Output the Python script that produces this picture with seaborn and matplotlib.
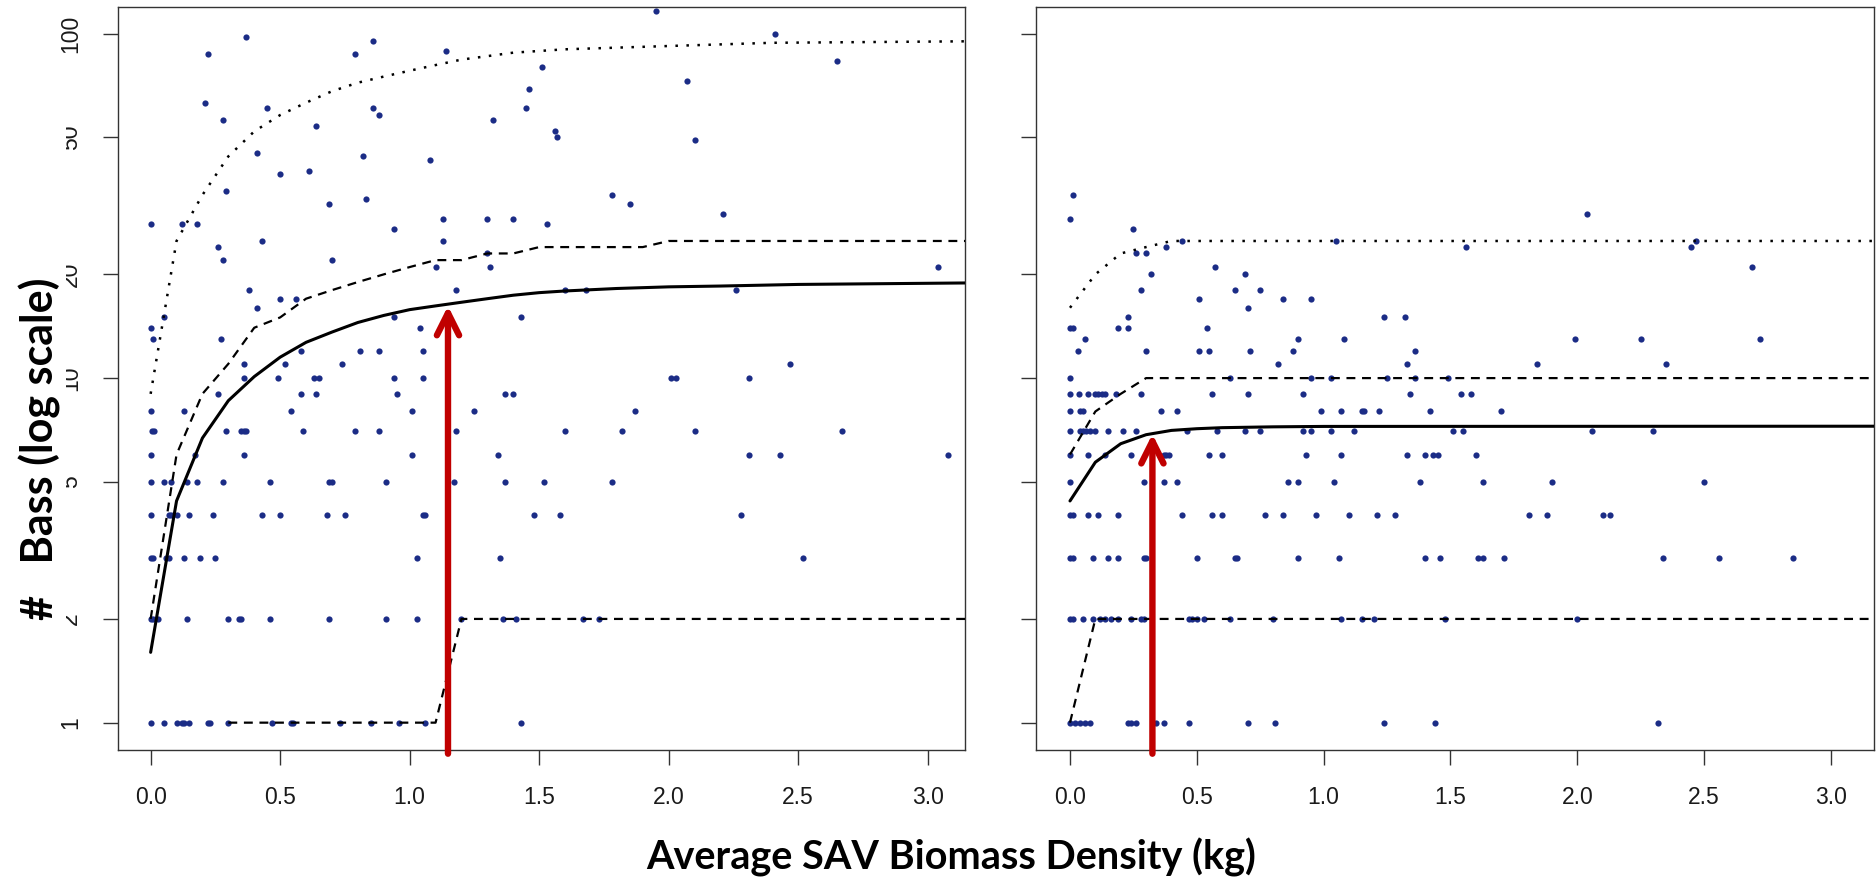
import pandas as pd
import matplotlib
matplotlib.use("Agg")
import matplotlib.pyplot as plt
from matplotlib.patches import Rectangle
import seaborn as sns

# ---- values ----
# left panel: bass counts and the biomass (kg) of every survey at that count
left_counts = [1, 2, 3, 4, 5, 6, 7, 8, 9, 10, 11, 12, 13, 14, 15, 16, 17, 18,
               21, 22, 23, 24, 25, 27, 28, 29, 30, 32, 33, 34, 35, 39, 40, 43,
               44, 45, 49, 50, 52, 54, 56, 58, 61, 63, 69, 73, 80, 83, 87, 89,
               95, 98, 100, 116]
left_x = [
    [0, 0.05, 0.10, 0.12, 0.13, 0.15, 0.22, 0.23, 0.30, 0.47, 0.54, 0.55, 0.73, 0.85, 0.96, 1.06, 1.43],
    [0.0, 0.01, 0.03, 0.14, 0.30, 0.34, 0.35, 0.46, 0.69, 0.91, 1.03, 1.20, 1.36, 1.41, 1.67, 1.73],
    [0.0, 0.01, 0.06, 0.07, 0.13, 0.19, 0.25, 1.03, 1.35, 2.52],
    [0.0, 0.07, 0.08, 0.10, 0.15, 0.24, 0.43, 0.50, 0.68, 0.75, 1.05, 1.06, 1.48, 1.58, 2.28],
    [0.0, 0.05, 0.08, 0.14, 0.18, 0.28, 0.46, 0.69, 0.70, 0.91, 1.17, 1.37, 1.52, 1.78],
    [0.0, 0.17, 0.36, 1.01, 1.34, 2.31, 2.43, 3.08],
    [0.005, 0.013, 0.29, 0.35, 0.36, 0.37, 0.59, 0.79, 0.88, 1.18, 1.60, 1.82, 2.10, 2.67],
    [0.0, 0.13, 0.54, 1.01, 1.25, 1.87],
    [0.26, 0.58, 0.64, 0.95, 1.37, 1.40],
    [0.36, 0.49, 0.63, 0.65, 0.94, 1.05, 2.01, 2.03, 2.31],
    [0.36, 0.52, 0.74, 2.47],
    [0.58, 0.81, 0.88, 1.05],
    [0.01, 0.27],
    [0.0, 1.04],
    [0.05, 0.94, 1.43],
    [0.41],
    [0.50, 0.56],
    [0.38, 1.18, 1.60, 1.68, 2.26],
    [1.10, 1.31, 3.04],
    [0.28, 0.70],
    [1.30],
    [0.26],
    [0.43, 1.13],
    [0.94],
    [0.0, 0.12, 0.18, 1.53],
    [1.13, 1.30, 1.40],
    [2.21],
    [0.69, 1.85],
    [0.83],
    [1.78],
    [0.29],
    [0.50],
    [0.61],
    [1.08],
    [0.82],
    [0.41],
    [2.10],
    [1.57],
    [1.56],
    [0.64],
    [0.28, 1.32],
    [0.88],
    [0.45, 0.86, 1.45],
    [0.21],
    [1.46],
    [2.07],
    [1.51],
    [2.65],
    [0.22, 0.79],
    [1.14],
    [0.86],
    [0.37],
    [2.41],
    [1.95],
]

# right panel
right_counts = [1, 2, 3, 4, 5, 6, 7, 8, 9, 10, 11, 12, 13, 14, 15, 16, 17, 18,
                20, 21, 23, 24, 25, 27, 29, 30, 34]
right_x = [
    [0.0, 0.02, 0.04, 0.06, 0.08, 0.23, 0.24, 0.26, 0.34, 0.37, 0.47, 0.70, 0.81, 1.24, 1.44, 2.32],
    [0.0, 0.01, 0.05, 0.09, 0.12, 0.14, 0.16, 0.19, 0.24, 0.28, 0.29, 0.47, 0.48, 0.50, 0.53, 0.63,
     0.80, 1.07, 1.15, 1.20, 1.48, 2.00],
    [0.0, 0.01, 0.09, 0.15, 0.19, 0.29, 0.30, 0.50, 0.65, 0.66, 0.90, 1.06, 1.40, 1.46, 1.61, 1.63,
     1.71, 2.34, 2.56, 2.85],
    [0.0, 0.01, 0.07, 0.11, 0.19, 0.44, 0.56, 0.60, 0.77, 0.84, 0.97, 1.10, 1.21, 1.28, 1.81, 1.88,
     2.10, 2.13],
    [0.0, 0.29, 0.37, 0.42, 0.86, 0.90, 1.04, 1.38, 1.63, 1.90, 2.50],
    [0.0, 0.07, 0.14, 0.24, 0.37, 0.38, 0.39, 0.55, 0.60, 0.93, 1.07, 1.33, 1.40, 1.43, 1.45, 1.60],
    [0.0, 0.04, 0.05, 0.065, 0.08, 0.10, 0.15, 0.21, 0.26, 0.46, 0.58, 0.69, 0.75, 0.92, 0.95, 1.03,
     1.12, 1.51, 1.55, 2.06, 2.30],
    [0.0, 0.04, 0.05, 0.36, 0.42, 0.99, 1.07, 1.15, 1.16, 1.22, 1.42, 1.70],
    [0.0, 0.035, 0.07, 0.10, 0.11, 0.125, 0.14, 0.18, 0.28, 0.56, 0.70, 0.92, 1.34, 1.54, 1.58],
    [0.0, 0.63, 0.95, 1.03, 1.25, 1.36, 1.49],
    [0.82, 1.33, 1.84, 2.35],
    [0.03, 0.30, 0.51, 0.55, 0.71, 0.88, 1.36],
    [0.06, 0.90, 1.08, 1.99, 2.25, 2.72],
    [0.0, 0.01, 0.19, 0.23, 0.54],
    [0.23, 1.24, 1.32],
    [0.70],
    [0.51, 0.84, 0.95],
    [0.28, 0.65, 0.75],
    [0.32, 0.69],
    [0.57, 2.69],
    [0.26, 0.30],
    [0.38, 1.56, 2.45],
    [0.44, 1.05, 2.47],
    [0.25],
    [0.0],
    [2.04],
    [0.01],
]

# fitted curve and interval lines (left panel)
left_fit_x = [0, 0.1, 0.2, 0.3, 0.4, 0.5, 0.6, 0.7, 0.8, 0.9, 1.0, 1.1, 1.2, 1.3, 1.4,
              1.5, 1.6, 1.8, 2.0, 2.2, 2.5, 3.2]
left_fit_y = [1.6, 4.4, 6.7, 8.6, 10.1, 11.5, 12.7, 13.6, 14.5, 15.2, 15.8, 16.2, 16.6,
              17.0, 17.4, 17.7, 17.9, 18.2, 18.4, 18.5, 18.7, 18.9]
left_hi_x = [0, 0.1, 0.2, 0.3, 0.4, 0.5, 0.6, 0.7, 0.8, 0.9, 1.0, 1.1, 1.2, 1.3, 1.4,
             1.5, 1.9, 2.0, 3.2]
left_hi_y = [2, 6, 9, 11, 14, 15, 17, 18, 19, 20, 21, 22, 22, 23, 23, 24, 24, 25, 25]
left_lo_x = [0.3, 1.1, 1.2, 3.2]
left_lo_y = [1, 1, 2, 2]
left_top_x = [0, 0.1, 0.2, 0.3, 0.4, 0.5, 0.6, 0.7, 0.8, 0.9, 1.0, 1.1, 1.2, 1.4, 1.6,
              1.8, 2.0, 2.4, 3.2]
left_top_y = [9, 25, 34, 44, 52, 58, 63, 68, 72, 75, 78, 81, 84, 88, 90, 91, 92, 94, 95]

# right panel
right_fit_x = [0, 0.1, 0.2, 0.3, 0.4, 0.5, 0.6, 0.8, 1.0, 3.2]
right_fit_y = [4.4, 5.7, 6.45, 6.85, 7.05, 7.13, 7.18, 7.22, 7.24, 7.25]
right_hi_x = [0, 0.1, 0.2, 0.3, 3.2]
right_hi_y = [6, 8, 9, 10, 10]
right_lo_x = [0, 0.1, 3.2]
right_lo_y = [1, 2, 2]
right_top_x = [0, 0.1, 0.2, 0.3, 0.4, 3.2]
right_top_y = [16, 20, 23, 24, 25, 25]

# red arrows (biomass where the fit levels off)
left_arrow = (1.148, 16.2)
right_arrow = (0.325, 6.88)

y_ticks = [1, 2, 5, 10, 20, 50, 100]
x_ticks = [0.0, 0.5, 1.0, 1.5, 2.0, 2.5, 3.0]

POINT = "#1b2c86"
RED = "#c00000"
AXIS = "#333333"

sns.set_theme(style="white")
plt.rcParams["font.family"] = ["Liberation Sans", "DejaVu Sans"]

W, H = 1876, 886
fig = plt.figure(figsize=(W / 100, H / 100), dpi=100)
ax1 = fig.add_axes([118 / W, 136 / H, 847 / W, 743 / H])
ax2 = fig.add_axes([1036 / W, 136 / H, 838 / W, 743 / H])


def long_table(counts, xs):
    rows = [(x, c) for c, row in zip(counts, xs) for x in row]
    return pd.DataFrame(rows, columns=["biomass", "bass"])


def draw_panel(ax, pts, fit, hi, lo, top, xlim, arrow, show_ylabels):
    ax.set_yscale("log")
    sns.scatterplot(data=pts, x="biomass", y="bass", ax=ax, color=POINT, s=20,
                    linewidth=0, zorder=2, legend=False)
    sns.lineplot(x=fit[0], y=fit[1], ax=ax, color="black", linewidth=2.2,
                 estimator=None, sort=False, zorder=3)
    for xs, ys in (hi, lo):
        sns.lineplot(x=xs, y=ys, ax=ax, color="black", linewidth=1.6,
                     linestyle=(0, (4, 3)), estimator=None, sort=False, zorder=3)
    sns.lineplot(x=top[0], y=top[1], ax=ax, color="black", linewidth=1.8,
                 linestyle=(0, (1, 3.4)), estimator=None, sort=False, zorder=3)

    ax.set_xlim(*xlim)
    ax.set_ylim(0.833, 119.4)
    ax.set_xticks(x_ticks)
    ax.set_xticklabels([f"{v:.1f}" for v in x_ticks])
    ax.set_yticks(y_ticks)
    ax.minorticks_off()
    if show_ylabels:
        ax.set_yticklabels([str(v) for v in y_ticks], rotation=90, va="center")
    else:
        ax.set_yticklabels([])
    ax.set_xlabel("")
    ax.set_ylabel("")
    ax.tick_params(axis="both", direction="out", length=11, width=1.0, color=AXIS,
                   labelsize=16.5, labelcolor="#1a1a1a", pad=15,
                   bottom=True, left=True)
    for sp in ax.spines.values():
        sp.set_visible(True)
        sp.set_color(AXIS)
        sp.set_linewidth(1.0)

    ax.annotate("", xy=arrow, xycoords="data",
                xytext=(arrow[0], -0.005), textcoords=("data", "axes fraction"),
                arrowprops=dict(arrowstyle="->,head_length=1.6,head_width=0.8",
                                color=RED, lw=4.6, shrinkA=0, shrinkB=0,
                                mutation_scale=10),
                annotation_clip=False, zorder=5)


draw_panel(ax1, long_table(left_counts, left_x),
           (left_fit_x, left_fit_y), (left_hi_x, left_hi_y), (left_lo_x, left_lo_y),
           (left_top_x, left_top_y), (-0.126, 3.144), left_arrow, True)
draw_panel(ax2, long_table(right_counts, right_x),
           (right_fit_x, right_fit_y), (right_hi_x, right_hi_y), (right_lo_x, right_lo_y),
           (right_top_x, right_top_y), (-0.134, 3.170), right_arrow, False)

# white text box of the slide label, which hides part of the tick labels
fig.patches.append(Rectangle((0, 250 / H), 66 / W, 511 / H, transform=fig.transFigure,
                             facecolor="white", edgecolor="none", zorder=1))

label_font = ["Lato", "DejaVu Sans"]
fig.text(40 / W, 0.493, "#   Bass (log scale)", rotation=90, ha="center", va="center",
         fontsize=31, fontweight="bold", family=label_font, color="black", zorder=3)
fig.text(951 / W, 29 / H, "Average SAV Biomass Density (kg)", ha="center", va="center",
         fontsize=28.5, fontweight="bold", family=label_font, color="black", zorder=3)

fig.savefig("out.png", dpi=100)
